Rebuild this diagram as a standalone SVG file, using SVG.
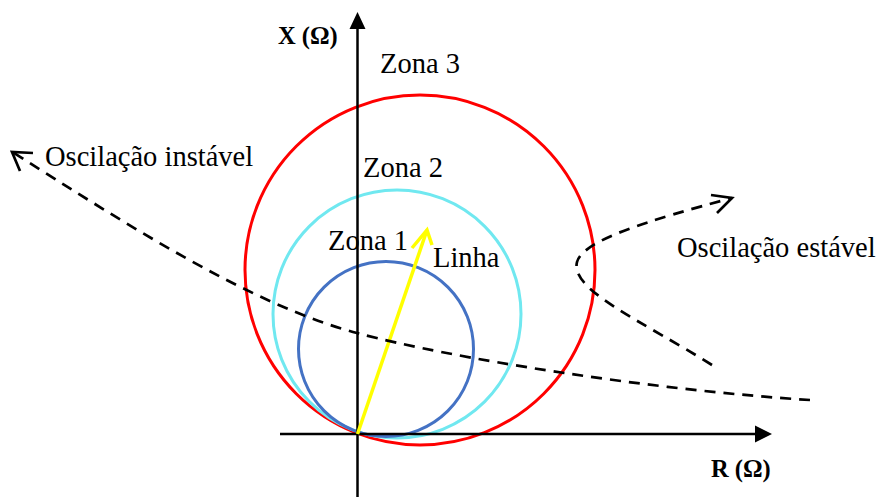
<svg xmlns="http://www.w3.org/2000/svg" width="880" height="497" viewBox="0 0 880 497">
<style>
.lbl{font-family:"Liberation Serif","Times New Roman",serif;font-size:28.5px;fill:#000}
.ax{font-family:"Liberation Serif","Times New Roman",serif;font-size:24.5px;font-weight:bold;fill:#000}
.axis{stroke:#000;stroke-width:2.5;fill:none}
.dash{stroke:#000;stroke-width:2.7;fill:none;stroke-dasharray:11 8}
.head{stroke:#000;stroke-width:2.7;fill:none}
</style>
<rect width="880" height="497" fill="#fff"/>
<g id="zona3">
<circle cx="420" cy="270" r="175" fill="none" stroke="#ff0000" stroke-width="3"/>
<text class="lbl" x="380" y="73">Zona 3</text>
</g>
<g id="zona2">
<circle cx="397" cy="314" r="124" fill="none" stroke="#70e8f0" stroke-width="3"/>
<text class="lbl" x="363" y="177">Zona 2</text>
</g>
<g id="zona1">
<circle cx="386" cy="349" r="87.5" fill="none" stroke="#4472c4" stroke-width="3"/>
<text class="lbl" x="328" y="250">Zona 1</text>
</g>
<g id="axes">
<line class="axis" x1="357.5" y1="497" x2="357.5" y2="26"/>
<polygon points="357.5,12 349.5,29 365.5,29" fill="#000"/>
<line class="axis" x1="280" y1="434" x2="758" y2="434"/>
<polygon points="772,434 755,425.5 755,442.5" fill="#000"/>
<text class="ax" x="278" y="44">X (Ω)</text>
<text class="ax" x="711" y="477">R (Ω)</text>
</g>
<g id="linha">
<line x1="357.5" y1="434" x2="427" y2="230" stroke="#ffff00" stroke-width="3.5"/>
<polyline points="412,248 427,230 432,245" fill="none" stroke="#ffff00" stroke-width="3.5"/>
<text class="lbl" x="433" y="267">Linha</text>
</g>
<g id="connectors">
<path class="dash" d="M810,400 C650,390 450,358 357,333 C250,305 120,220 14,153"/>
<polyline class="head" points="33,153 12,152 20,171"/>
<path class="dash" d="M712,365 C640,320 570,290 577,262 C583,240 650,220 732,198"/>
<polyline class="head" points="711,195 732,198 717,213"/>
</g>
<g id="labels">
<text class="lbl" x="45" y="166">Oscilação instável</text>
<text class="lbl" x="677" y="257">Oscilação estável</text>
</g>
</svg>
